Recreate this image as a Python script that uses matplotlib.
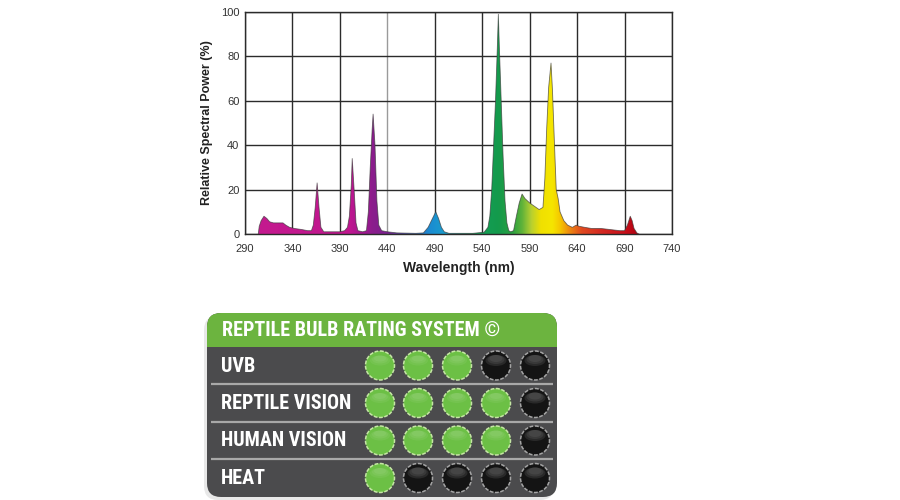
import numpy as np
import matplotlib
matplotlib.use("Agg")
import matplotlib.pyplot as plt
from matplotlib import font_manager
from matplotlib.patches import FancyBboxPatch, Rectangle, Circle, Ellipse, Polygon
from matplotlib.colors import to_rgb

# ---------------- data ----------------
wavelength = [304, 305, 307, 310, 313, 316, 320, 325, 330, 333, 337, 342, 350, 356, 360,
              362, 364, 366, 368, 370, 373, 380, 390, 395, 398, 400, 402, 403, 405, 407,
              409, 414, 418, 420, 422, 424, 425, 427, 429, 431, 434, 440, 450, 470, 478,
              483, 487, 491, 494, 497, 500, 505, 530, 542, 546, 548, 550, 552, 554, 556,
              557, 558, 560, 562, 564, 566, 568, 570, 573, 576, 579, 582, 585, 590, 595,
              600, 604, 606, 608, 610, 612.5, 614, 616, 618, 620, 622, 626, 630, 635, 639,
              642, 648, 655, 665, 675, 685, 690, 693, 696, 698, 700, 703, 705]
power = [0, 3.5, 6, 8, 7, 5.5, 5, 5, 5, 4, 3, 2.5, 2, 1.5, 1.5,
         4, 12, 23, 12, 3, 1, 1, 1, 1.5, 3, 8, 22, 34, 20, 5,
         1.5, 1, 1.5, 10, 30, 47, 54, 40, 15, 4, 1.5, 1, 0.5, 0.3, 0.5,
         3, 6.5, 10, 7, 3, 1, 0.3, 0.3, 0.8, 3, 8, 20, 40, 60, 85,
         99, 85, 60, 35, 15, 5, 1.5, 1, 1.5, 8, 14, 18, 16, 14, 12.5,
         11, 12, 25, 48, 66, 77, 65, 42, 20, 16, 10, 6, 4, 3, 4,
         3.5, 3, 2.5, 2.5, 2, 1.5, 1.5, 4, 8, 6, 2.5, 0.5, 0]

x_ticks = [290, 340, 390, 440, 490, 540, 590, 640, 690, 740]
y_ticks = [0, 20, 40, 60, 80, 100]

# colour of the spectrum at each wavelength (anchor wavelengths / colours)
color_wl = [300, 400, 415, 425, 440, 465, 485, 500, 515, 530, 557, 572, 582, 592,
            602, 614, 622, 632, 645, 665, 690, 705]
color_hex = ["#c41a8e", "#c0168f", "#a01890", "#8a1d8c", "#7a2090", "#3f5fb5",
             "#1a8cd2", "#1a9ccc", "#10a090", "#12a05a", "#149a4c", "#2aa040",
             "#5eb23a", "#b8d030", "#f0e000", "#f5e600", "#f5c800", "#ee8a10",
             "#e04a20", "#d42a22", "#c8101a", "#b00010"]

panel_title = "REPTILE BULB RATING SYSTEM \u00a9"
rating_labels = ["UVB", "REPTILE VISION", "HUMAN VISION", "HEAT"]
rating_values = [3, 4, 4, 1]
rating_max = 5

# ---------------- fonts ----------------
available = {f.name for f in font_manager.fontManager.ttflist}
chart_font = "Liberation Sans" if "Liberation Sans" in available else "DejaVu Sans"
panel_font = None
for cand in ["Liberation Sans Narrow", "Roboto Condensed", "Open Sans Condensed", "Noto Sans Condensed"]:
    if cand in available:
        panel_font = cand
        break
if panel_font is None:
    panel_font = chart_font
plt.rcParams["font.family"] = [chart_font, "DejaVu Sans"]

fig = plt.figure(figsize=(9, 5), dpi=100)
fig.patch.set_facecolor("white")

# ---------------- spectrum chart ----------------
ax = fig.add_axes([245 / 900, 1 - 234 / 500, (672 - 245) / 900, (234 - 12) / 500])
ax.set_xlim(290, 740)
ax.set_ylim(0, 100)
ax.set_xticks(x_ticks)
ax.set_yticks(y_ticks)
ax.set_xticklabels([str(v) for v in x_ticks])
ax.set_yticklabels([str(v) for v in y_ticks])
ax.tick_params(length=0, labelsize=8, colors="#333333", pad=7)
ax.tick_params(axis="y", pad=4)
ax.grid(True, color="#2b2b2b", lw=1.0)
ax.set_axisbelow(True)
for sp in ax.spines.values():
    sp.set_color("#2b2b2b")
    sp.set_linewidth(1.0)
for i, gl in enumerate(ax.get_xgridlines()):
    if x_ticks[i] == 440:
        gl.set_color("#9a9a9a")

wl = np.array(wavelength, dtype=float)
pw = np.array(power, dtype=float)

# colour gradient image, clipped by the spectrum polygon
grid_wl = np.linspace(290, 740, 900)
anchors = np.array([to_rgb(c) for c in color_hex])
img = np.zeros((1, grid_wl.size, 3))
for k in range(3):
    img[0, :, k] = np.interp(grid_wl, color_wl, anchors[:, k])
poly_xy = np.column_stack([np.concatenate([wl, [wl[-1], wl[0]]]),
                           np.concatenate([pw, [0, 0]])])
poly = Polygon(poly_xy, closed=True, facecolor="none", edgecolor="none",
               transform=ax.transData)
ax.add_patch(poly)
im = ax.imshow(img, extent=[290, 740, 0, 100], aspect="auto", origin="lower",
               zorder=2, interpolation="bilinear")
im.set_clip_path(poly)
ax.plot(wl, pw, color="#3a3a3a", lw=0.6, alpha=0.7, zorder=3)

ax.set_xlabel("Wavelength (nm)", fontsize=10, fontweight="bold", color="#222222", labelpad=5)
ax.set_ylabel("Relative Spectral Power (%)", fontsize=9, fontweight="bold", color="#222222",
              labelpad=6)

# ---------------- rating panel ----------------
pax = fig.add_axes([0, 0, 1, 1])
pax.set_xlim(0, 900)
pax.set_ylim(500, 0)
pax.axis("off")
pax.set_facecolor("none")

px0, py0, pw_, ph_ = 207, 313, 350, 184
shadow = FancyBboxPatch((px0 - 3, py0 + 3), pw_, ph_,
                        boxstyle="round,pad=0,rounding_size=14",
                        fc="#d2d2d2", ec="none", alpha=0.5, zorder=1)
pax.add_patch(shadow)
box = FancyBboxPatch((px0, py0), pw_, ph_, boxstyle="round,pad=0,rounding_size=14",
                     fc="#4b4b4d", ec="none", zorder=2)
pax.add_patch(box)
header = Rectangle((px0, py0), pw_, 34, fc="#6cb43f", ec="none", zorder=3)
pax.add_patch(header)
header.set_clip_path(box)

pax.text(222, py0 + 17.5, panel_title, color="white", fontsize=14.5, fontweight="bold",
         family=[panel_font, "DejaVu Sans"], va="center", ha="left", zorder=5)

row_top = [347, 384, 422, 459]
row_bot = [384, 422, 459, 497]
for y in row_top[1:]:
    pax.plot([211, 553], [y, y], color="#a8a8a8", lw=1.6, zorder=4,
             solid_capstyle="butt")

circle_x = [380, 418, 457, 496, 535]
for i, (lab, val) in enumerate(zip(rating_labels, rating_values)):
    cy = (row_top[i] + row_bot[i]) / 2
    pax.text(221, cy + 0.5, lab, color="white", fontsize=14.5, fontweight="bold",
             family=[panel_font, "DejaVu Sans"], va="center", ha="left", zorder=5)
    for j in range(rating_max):
        cx = circle_x[j]
        if j < val:
            c = Circle((cx, cy), 14.5, fc="#6cc045", ec="#c5e6a5", lw=1.1,
                       ls=(0, (2.5, 1)), zorder=5)
            pax.add_patch(c)
            for k, a in enumerate([0.06, 0.06, 0.06]):
                hl = Ellipse((cx, cy - 5 - k), 20 - 4 * k, 10 - 2 * k, fc="white",
                             ec="none", alpha=a, zorder=6)
                pax.add_patch(hl)
        else:
            c = Circle((cx, cy), 14.5, fc="#141414", ec="#a5a5a5", lw=1.1,
                       ls=(0, (2.5, 1)), zorder=5)
            pax.add_patch(c)
            for k, a in enumerate([0.25, 0.25, 0.25]):
                hl = Ellipse((cx, cy - 5 - k), 21 - 4 * k, 11 - 2 * k, fc="#6a6a6a",
                             ec="none", alpha=a, zorder=6)
                pax.add_patch(hl)

fig.savefig("out.png", dpi=100, facecolor="white")
